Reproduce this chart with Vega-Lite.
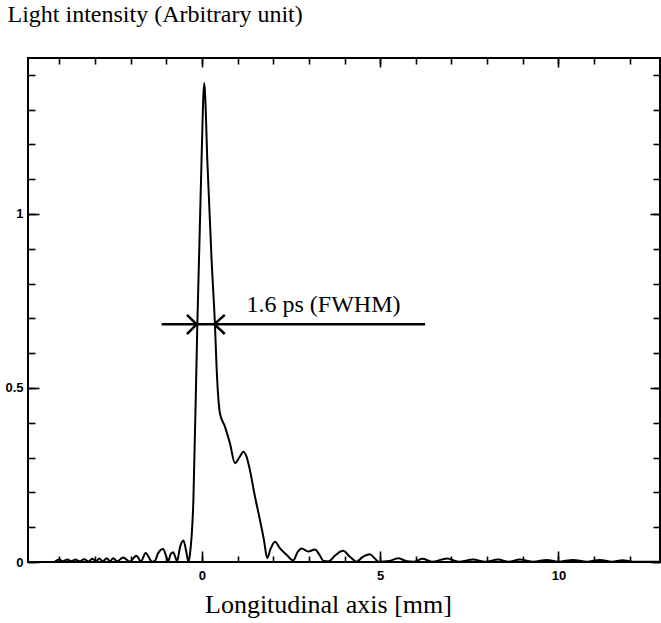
{
  "$schema": "https://vega.github.io/schema/vega-lite/v6.json",
  "width": 632,
  "height": 504,
  "autosize": {"type": "none"},
  "padding": {"left": 28, "top": 58, "right": 1, "bottom": 61},
  "background": "white",
  "config": {
    "view": {"stroke": "black", "strokeWidth": 2},
    "axis": {
      "grid": false,
      "domain": false,
      "labelFont": "Liberation Sans",
      "labelFontWeight": "bold",
      "labelFontSize": 13,
      "labelColor": "black",
      "tickColor": "black",
      "tickWidth": 1.6,
      "titleFont": "Liberation Serif",
      "titleFontWeight": "normal",
      "titleColor": "black"
    }
  },
  "datasets": {
    "curve": [
      {"x": -4.12, "y": 0.002}, {"x": -4.0, "y": 0.007}, {"x": -3.9, "y": 0.002},
      {"x": -3.78, "y": 0.007}, {"x": -3.66, "y": 0.002}, {"x": -3.55, "y": 0.007},
      {"x": -3.44, "y": 0.002}, {"x": -3.3, "y": 0.008}, {"x": -3.18, "y": 0.002},
      {"x": -3.07, "y": 0.009}, {"x": -2.97, "y": 0.002}, {"x": -2.88, "y": 0.01},
      {"x": -2.78, "y": 0.002}, {"x": -2.67, "y": 0.011}, {"x": -2.58, "y": 0.002},
      {"x": -2.49, "y": 0.011}, {"x": -2.38, "y": 0.002}, {"x": -2.21, "y": 0.013},
      {"x": -2.03, "y": 0.001}, {"x": -1.84, "y": 0.018}, {"x": -1.71, "y": 0.002},
      {"x": -1.58, "y": 0.026}, {"x": -1.4, "y": 0.001}, {"x": -1.33, "y": 0.002},
      {"x": -1.22, "y": 0.027}, {"x": -1.09, "y": 0.037}, {"x": -0.99, "y": 0.012},
      {"x": -0.95, "y": 0.002}, {"x": -0.88, "y": 0.022}, {"x": -0.81, "y": 0.028},
      {"x": -0.74, "y": 0.012}, {"x": -0.7, "y": 0.002}, {"x": -0.61, "y": 0.045},
      {"x": -0.52, "y": 0.062}, {"x": -0.44, "y": 0.03}, {"x": -0.38, "y": 0.001},
      {"x": -0.34, "y": 0.02}, {"x": -0.24, "y": 0.178}, {"x": -0.13, "y": 0.681},
      {"x": -0.06, "y": 0.96}, {"x": 0.0, "y": 1.2}, {"x": 0.04, "y": 1.34},
      {"x": 0.065, "y": 1.376}, {"x": 0.09, "y": 1.34}, {"x": 0.15, "y": 1.155},
      {"x": 0.27, "y": 0.868}, {"x": 0.365, "y": 0.681}, {"x": 0.41, "y": 0.561},
      {"x": 0.46, "y": 0.47}, {"x": 0.505, "y": 0.427}, {"x": 0.645, "y": 0.389},
      {"x": 0.785, "y": 0.341}, {"x": 0.926, "y": 0.284}, {"x": 1.066, "y": 0.303},
      {"x": 1.16, "y": 0.317}, {"x": 1.25, "y": 0.303}, {"x": 1.346, "y": 0.264},
      {"x": 1.487, "y": 0.188}, {"x": 1.627, "y": 0.121}, {"x": 1.74, "y": 0.063},
      {"x": 1.83, "y": 0.011}, {"x": 1.93, "y": 0.039}, {"x": 2.05, "y": 0.058},
      {"x": 2.19, "y": 0.039}, {"x": 2.38, "y": 0.02}, {"x": 2.56, "y": 0.004},
      {"x": 2.68, "y": 0.028}, {"x": 2.8, "y": 0.039}, {"x": 2.98, "y": 0.03},
      {"x": 3.17, "y": 0.036}, {"x": 3.3, "y": 0.02}, {"x": 3.4, "y": 0.004},
      {"x": 3.55, "y": 0.002}, {"x": 3.75, "y": 0.02}, {"x": 3.96, "y": 0.032},
      {"x": 4.15, "y": 0.015}, {"x": 4.34, "y": 0.001}, {"x": 4.5, "y": 0.014},
      {"x": 4.71, "y": 0.022}, {"x": 4.85, "y": 0.01}, {"x": 4.95, "y": 0.001},
      {"x": 5.25, "y": 0.003}, {"x": 5.51, "y": 0.011}, {"x": 5.75, "y": 0.002},
      {"x": 5.95, "y": 0.001}, {"x": 6.19, "y": 0.009}, {"x": 6.45, "y": 0.001},
      {"x": 6.88, "y": 0.01}, {"x": 7.2, "y": 0.001}, {"x": 7.61, "y": 0.007},
      {"x": 7.95, "y": 0.001}, {"x": 8.31, "y": 0.007}, {"x": 8.6, "y": 0.001},
      {"x": 8.92, "y": 0.007}, {"x": 9.3, "y": 0.001}, {"x": 9.67, "y": 0.006},
      {"x": 10.0, "y": 0.001}, {"x": 10.41, "y": 0.006}, {"x": 10.8, "y": 0.001},
      {"x": 11.16, "y": 0.006}, {"x": 11.5, "y": 0.001}, {"x": 11.8, "y": 0.005},
      {"x": 12.1, "y": 0.001}, {"x": 12.85, "y": 0.001}
    ],
    "fwhm": [{"x1": -1.13, "x2": 6.26, "y": 0.683}],
    "arrowLeft": [
      {"i": 0, "x": -0.42, "y": 0.71},
      {"i": 1, "x": -0.15, "y": 0.683},
      {"i": 2, "x": -0.42, "y": 0.655}
    ],
    "arrowRight": [
      {"i": 0, "x": 0.64, "y": 0.71},
      {"i": 1, "x": 0.345, "y": 0.683},
      {"i": 2, "x": 0.64, "y": 0.655}
    ],
    "label": [{"x": 1.25, "y": 0.719, "text": "1.6 ps (FWHM)"}]
  },
  "resolve": {"axis": {"x": "independent", "y": "independent"}},
  "layer": [
    {
      "data": {"name": "curve"},
      "mark": {"type": "line", "color": "black", "strokeWidth": 2, "interpolate": "monotone", "clip": true},
      "encoding": {
        "x": {
          "field": "x", "type": "quantitative",
          "scale": {"domain": [-4.88, 12.85], "nice": false, "zero": false},
          "axis": {
            "orient": "bottom", "values": [0, 5, 10], "labelExpr": "'' + datum.value", "ticks": false, "labelPadding": 7,
            "title": "Longitudinal axis [mm]", "titleFontSize": 26,
            "titleX": 300, "titleY": 50, "titleAlign": "center", "titleBaseline": "alphabetic"
          }
        },
        "y": {
          "field": "y", "type": "quantitative",
          "scale": {"domain": [0, 1.448], "nice": false},
          "axis": {
            "orient": "left", "values": [0, 0.5, 1], "labelExpr": "'' + datum.value", "ticks": false, "labelPadding": 5,
            "title": "Light intensity (Arbitrary unit)", "titleFontSize": 24,
            "titleAngle": 0, "titleX": -21, "titleY": -37, "titleAlign": "left", "titleBaseline": "alphabetic"
          }
        }
      }
    },
    {
      "data": {"name": "fwhm"},
      "mark": {"type": "rule", "color": "black", "strokeWidth": 2.5},
      "encoding": {
        "x": {"field": "x1", "type": "quantitative",
          "axis": {"orient": "bottom", "values": [-4, -3, -2, -1, 0, 1, 2, 3, 4, 5, 6, 7, 8, 9, 10, 11, 12], "labels": false, "tickSize": -6, "title": null}},
        "x2": {"field": "x2"},
        "y": {"field": "y", "type": "quantitative",
          "axis": {"orient": "left", "values": [0, 0.1, 0.2, 0.3, 0.4, 0.5, 0.6, 0.7, 0.8, 0.9, 1, 1.1, 1.2, 1.3, 1.4], "labels": false, "tickSize": -7, "title": null}}
      }
    },
    {
      "data": {"name": "arrowLeft"},
      "mark": {"type": "line", "color": "black", "strokeWidth": 2.5},
      "encoding": {
        "x": {"field": "x", "type": "quantitative",
          "axis": {"orient": "bottom", "values": [0, 5, 10], "labels": false, "tickSize": -11, "title": null}},
        "y": {"field": "y", "type": "quantitative",
          "axis": {"orient": "left", "values": [0, 0.5, 1], "labels": false, "tickSize": -11, "title": null}},
        "order": {"field": "i"}
      }
    },
    {
      "data": {"name": "arrowRight"},
      "mark": {"type": "line", "color": "black", "strokeWidth": 2.5},
      "encoding": {
        "x": {"field": "x", "type": "quantitative",
          "axis": {"orient": "top", "values": [-4, -3, -2, -1, 0, 1, 2, 3, 4, 5, 6, 7, 8, 9, 10, 11, 12], "labels": false, "tickSize": -6, "title": null}},
        "y": {"field": "y", "type": "quantitative",
          "axis": {"orient": "right", "values": [0, 0.1, 0.2, 0.3, 0.4, 0.5, 0.6, 0.7, 0.8, 0.9, 1, 1.1, 1.2, 1.3, 1.4], "labels": false, "tickSize": -7, "title": null}},
        "order": {"field": "i"}
      }
    },
    {
      "data": {"name": "label"},
      "mark": {"type": "text", "font": "Liberation Serif", "fontSize": 24, "color": "black", "align": "left", "baseline": "alphabetic"},
      "encoding": {
        "x": {"field": "x", "type": "quantitative",
          "axis": {"orient": "top", "values": [0, 5, 10], "labels": false, "tickSize": -9, "title": null}},
        "y": {"field": "y", "type": "quantitative",
          "axis": {"orient": "right", "values": [0, 0.5, 1], "labels": false, "tickSize": -10, "title": null}},
        "text": {"field": "text"}
      }
    }
  ]
}
